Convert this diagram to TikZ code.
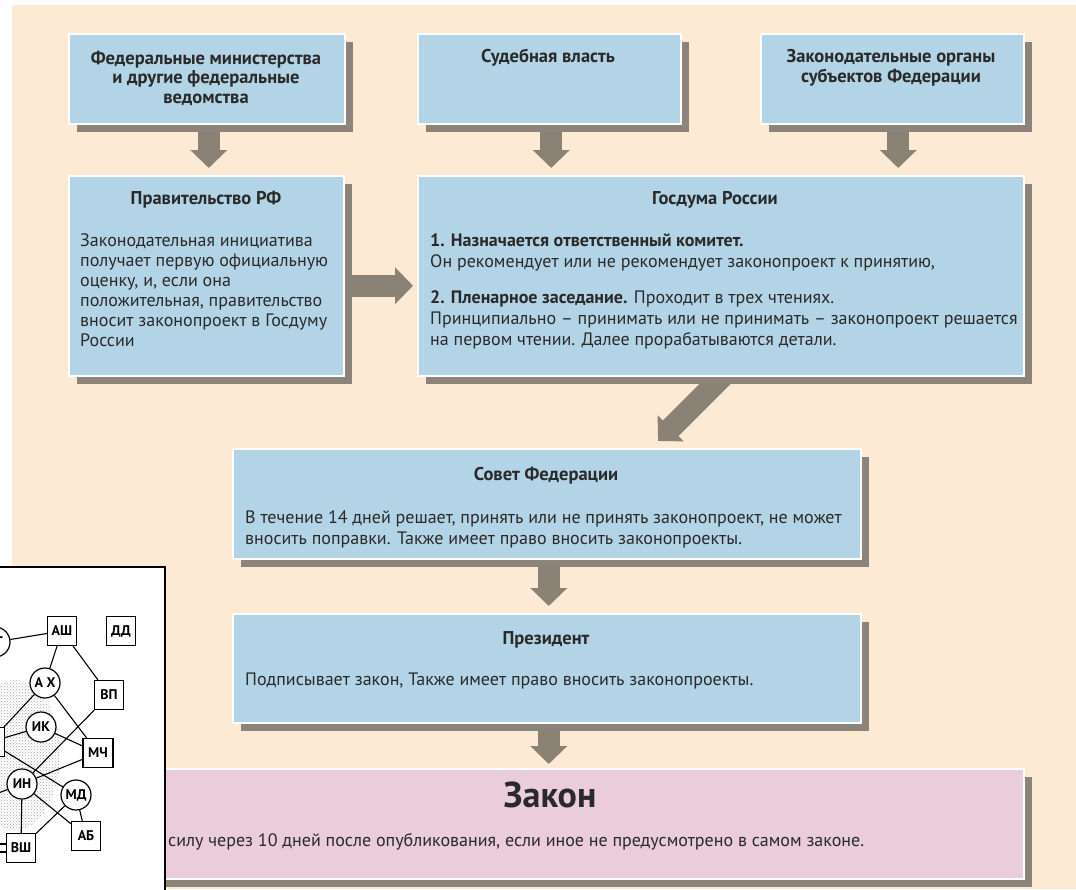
\documentclass[tikz,border=0pt]{standalone}
\usepackage{fontspec}
\setmainfont{PT Sans}
\usetikzlibrary{arrows.meta,shadows,patterns}

\definecolor{peach}{RGB}{253,234,212}
\definecolor{boxblue}{RGB}{179,212,230}
\definecolor{boxpink}{RGB}{234,204,218}
\definecolor{shade}{RGB}{140,132,122}
\definecolor{arrowc}{RGB}{139,130,118}
\definecolor{txt}{RGB}{42,42,42}

\pgfdeclarelayer{bg}
\pgfdeclarelayer{arr}
\pgfdeclarelayer{ins}
\pgfdeclarelayer{iedge}
\pgfdeclarelayer{inode}
\pgfsetlayers{bg,arr,main,ins,iedge,inode}

\tikzset{
  box/.style={draw=white, line width=1.5pt, fill=boxblue, anchor=north west, inner sep=0pt,
    drop shadow={shadow xshift=8pt, shadow yshift=-8pt, fill=shade, opacity=1}},
  pinkbox/.style={box, fill=boxpink},
  ttl/.style={font=\fontsize{18.5}{19.5}\selectfont\bfseries, align=center, text=txt, inner sep=0pt},
  body/.style={font=\fontsize{18}{21}\selectfont, align=left, anchor=north west, inner sep=0pt, text=txt},
  fat/.style={draw=arrowc, line width=22pt, -{Triangle[width=36pt,length=18pt]}},
  gc/.style={circle, draw=black, line width=1.2pt, fill=white, minimum size=30pt, inner sep=0pt,
    font=\fontsize{14}{14}\selectfont\bfseries},
  gs/.style={rectangle, draw=black, line width=1.2pt, fill=white, minimum size=29pt, inner sep=0pt,
    font=\fontsize{14}{14}\selectfont\bfseries},
  ge/.style={draw=black, line width=1.1pt}
}

\begin{document}
\begin{tikzpicture}[x=1pt,y=-1pt]
\useasboundingbox (0,0) rectangle (1076,889);
\begin{pgfonlayer}{bg}
  \fill[peach] (12,5) rectangle (1076,889);
\end{pgfonlayer}

% boxes
\node[box, minimum width=276pt, minimum height=90pt] (b1) at (68,33) {};
\node[box, minimum width=263pt, minimum height=90pt] (b2) at (417,33) {};
\node[box, minimum width=263pt, minimum height=90pt] (b3) at (760,33) {};
\node[box, minimum width=275pt, minimum height=200pt] (b4) at (68,175) {};
\node[box, minimum width=606pt, minimum height=200pt] (b5) at (417,175) {};
\node[box, minimum width=628pt, minimum height=110pt] (b6) at (232,448) {};
\node[box, minimum width=628pt, minimum height=109pt] (b7) at (232,613) {};
\node[pinkbox, minimum width=873pt, minimum height=110pt] (b8) at (150,768) {};

% texts
\node[ttl] (t1) at (206,78) {Федеральные министерства\\и другие федеральные\\ведомства};
\node[ttl] (t2) at (548,58) {Судебная власть};
\node[ttl] (t3) at (891,68) {Законодательные органы\\субъектов Федерации};

\node[ttl] (t4) at (206,200) {Правительство РФ};
\node[body, font=\fontsize{18}{20}\selectfont] (t4b) at (80,233) {Законодательная инициатива\\получает первую официальную\\оценку, и, если она\\положительная, правительство\\вносит законопроект в Госдуму\\России};

\node[ttl] (t5) at (715,200) {Госдума России};
\node[body] (t5a) at (430,233) {\textbf{1. Назначается ответственный комитет.}\\Он рекомендует или не рекомендует законопроект к принятию,};
\node[body] (t5b) at (430,290) {\textbf{2. Пленарное заседание.} Проходит в трех чтениях.\\Принципиально – принимать или не принимать – законопроект решается\\на первом чтении. Далее прорабатываются детали.};

\node[ttl] (t6) at (546,476) {Совет Федерации};
\node[body] (t6b) at (245,510) {В течение 14 дней решает, принять или не принять законопроект, не может\\вносить поправки. Также имеет право вносить законопроекты.};

\node[ttl] (t7) at (546,640) {Президент};
\node[body] (t7b) at (245,673) {Подписывает закон, Также имеет право вносить законопроекты.};

\node[ttl, font=\fontsize{36}{36}\selectfont\bfseries] (t8) at (550,795) {Закон};
\node[body] (t8b) at (168,833) {силу через 10 дней после опубликования, если иное не предусмотрено в самом законе.};

% arrows
\coordinate (d1) at (728,371);
\coordinate (d2) at (658,441);
\begin{pgfonlayer}{arr}
  \draw[fat, shorten >=7pt] ([xshift=2pt]b1.south) -- ([xshift=2pt]b1.south |- b4.north);
  \draw[fat, shorten >=7pt] ([xshift=2pt]b2.south) -- ([xshift=2pt]b2.south |- b5.north);
  \draw[fat, shorten >=7pt] ([xshift=6pt]b3.south) -- ([xshift=6pt]b3.south |- b5.north);
  \draw[fat, shorten >=4pt] ([yshift=-10pt]b4.east) -- ([yshift=-10pt]b4.east -| b5.west);
  \draw[fat] (d1) -- (d2);
  \draw[fat, shorten >=7pt] ([xshift=2pt]b6.south) -- ([xshift=2pt]b6.south |- b7.north);
  \draw[fat, shorten >=4pt] ([xshift=2pt]b7.south) -- ([xshift=2pt]b7.south |- b8.north);
\end{pgfonlayer}

% inset
\begin{pgfonlayer}{ins}
  \fill[white] (-5,567) rectangle (165,895);
  \fill[pattern=crosshatch dots, pattern color=gray!70] (15,755) ellipse [x radius=45pt, y radius=75pt];
  \draw[black, line width=1.6pt] (-5,567) -- (165,567) -- (165,895);
\end{pgfonlayer}
\begin{pgfonlayer}{inode}
  \node[gc] (nT) at (-5,642) {СТ};
  \node[gs] (nASh) at (62,631) {АШ};
  \node[gs] (nDD) at (121,631) {ДД};
  \node[gc] (nAX) at (45,683) {А Х};
  \node[gs] (nVP) at (109,695) {ВП};
  \node[gc] (nIK) at (41,727) {ИК};
  \node[gs, minimum width=30pt] (nMCh) at (98,753) {МЧ};
  \node[gc] (nIN) at (22,784) {ИН};
  \node[gc] (nMD) at (76,795) {МД};
  \node[gs] (nAB) at (86,836) {АБ};
  \node[gs] (nVSh) at (21,848) {ВШ};
  \node[gs] (nL1) at (-10,742) {};
\end{pgfonlayer}
\coordinate (cL2) at (-20,800);
\coordinate (cL3) at (-10,844);
\coordinate (cL4) at (-10,852);
\begin{pgfonlayer}{iedge}
  \draw[ge] (nT) -- (nASh);
  \draw[ge] (nASh) -- (nAX);
  \draw[ge] (nASh) -- (nVP);
  \draw[ge] (nAX) -- (nL1);
  \draw[ge] (nAX) -- (nMCh);
  \draw[ge] (nIK) -- (nL1);
  \draw[ge] (nIK) -- (nMCh);
  \draw[ge] (nVP) -- (nIN);
  \draw[ge] (nIN) -- (nMCh);
  \draw[ge] (nIN) -- (nAB);
  \draw[ge] (nL1) -- (nMD);
  \draw[ge] (nIN) -- (nVSh);
  \draw[ge] (nMD) -- (nVSh);
  \draw[ge] (nMD) -- (nAB);
  \draw[ge] (nIN) -- (cL2);
  \draw[ge] (nVSh.west |- cL3) -- (cL3);
  \draw[ge] (nVSh.west |- cL4) -- (cL4);
\end{pgfonlayer}
\end{tikzpicture}
\end{document}
